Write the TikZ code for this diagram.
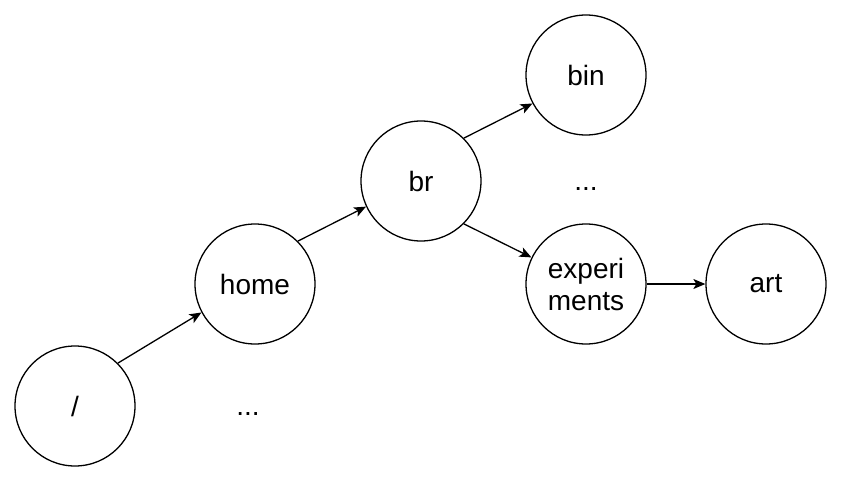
\documentclass[tikz,border=0pt]{standalone}
\usepackage{fontspec}
\setmainfont{Liberation Sans}
\usetikzlibrary{arrows.meta}
\begin{document}
\begin{tikzpicture}[x=1pt,y=-1pt,
  dirnode/.style={circle,draw,line width=1.3pt,minimum size=120pt,inner sep=0pt,font=\fontsize{28}{32}\selectfont,align=center},
  dots/.style={font=\fontsize{28}{32}\selectfont,anchor=base,inner sep=0pt},
  conn/.style={line width=1.3pt,-{Stealth[length=12pt,width=10pt,inset=3pt]}}]
\useasboundingbox (0,0) rectangle (842,482);
\node[dirnode] (root) at (75,406) {/};
\node[dirnode] (home) at (255,284) {home};
\node[dirnode] (br) at (421,181) {br};
\node[dirnode] (bin) at (586,75) {bin};
\node[dirnode] (exp) at (586,284) {experi\\ments};
\node[dirnode] (art) at (766,284) {art};
\node[dots] (d1) at (248,415) {...};
\node[dots] (d2) at (586,190) {...};
\draw[conn] (root.45) -- (home.208);
\draw[conn] (home.45) -- (br.205);
\draw[conn] (br.45) -- (bin.208);
\draw[conn] (br.-45) -- (exp.154);
\draw[conn] (exp.east) -- (art.west);
\end{tikzpicture}
\end{document}
